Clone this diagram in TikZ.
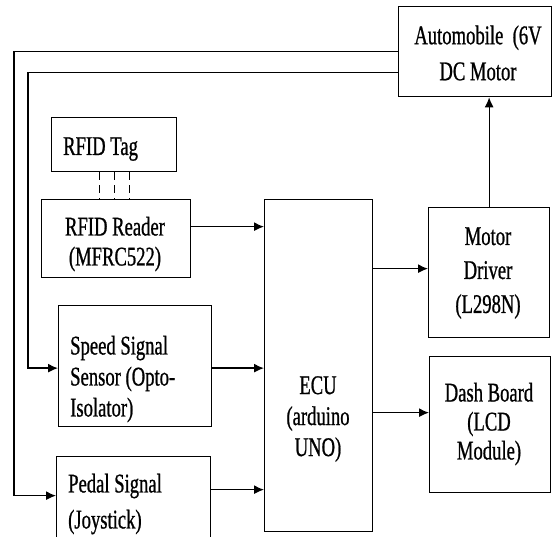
\documentclass[tikz,border=0pt]{standalone}
\usepackage{fontspec}
\setmainfont[FakeStretch=0.69,FakeBold=0.8]{Liberation Serif}
\usetikzlibrary{arrows.meta}

\tikzset{
  blk/.style={draw, line width=1.3pt, inner sep=0pt, anchor=north west},
  lbl/.style={inner sep=0pt, font=\fontsize{27}{#1}\selectfont},
  lbl/.default=31,
  arr/.style={line width=1.3pt, -{Latex[length=10pt,width=9pt]}},
  link/.style={line width=1.2pt, dash pattern=on 8pt off 5pt}
}

\begin{document}
\begin{tikzpicture}[x=1pt,y=-1pt]

\useasboundingbox (0,0) rectangle (552,537);

% blocks
\node[blk, minimum width=153pt, minimum height=90pt]  (auto)   at (398,6)   {};
\node[blk, minimum width=125pt, minimum height=54pt]  (tag)    at (51,117)  {};
\node[blk, minimum width=149pt, minimum height=78pt]  (reader) at (41,199)  {};
\node[blk, minimum width=153pt, minimum height=121pt] (speed)  at (58,305)  {};
\node[blk, minimum width=154pt, minimum height=104pt] (pedal)  at (56,456)  {};
\node[blk, minimum width=108pt, minimum height=332pt] (ecu)    at (264,199) {};
\node[blk, minimum width=121pt, minimum height=130pt] (md)     at (428,207) {};
\node[blk, minimum width=121pt, minimum height=136pt] (dash)   at (429,356) {};

% texts
\node[lbl=36, align=center]        (autotxt)   at (478,53)  {Automobile\ \ (6V\\DC Motor};
\node[lbl, anchor=base west]       (tagtxt)    at (63,155)  {RFID Tag};
\node[lbl=30, align=center]        (readertxt) at (115,244) {RFID Reader\\(MFRC522)};
\node[lbl, align=left, anchor=west] (speedtxt) at (70,379)  {Speed Signal\\Sensor (Opto-\\Isolator)};
\node[lbl=36, align=left, anchor=west] (pedaltxt) at (68,504) {Pedal Signal\\(Joystick)};
\node[lbl, align=center]           (ecutxt)    at (318,419) {ECU\\(arduino\\UNO)};
\node[lbl=34, align=center]        (mdtxt)     at (488,273) {Motor\\Driver\\(L298N)};
\node[lbl=29, align=center]        (dashtxt)   at (489,424) {Dash Board\\(LCD\\Module)};

% rfid link
\foreach \dx in {-15,0,15}
  \draw[link] ([xshift=\dx pt]tag.south) -- ([xshift=\dx pt]tag.south |- reader.north);

% signals into the ECU
\coordinate (rdOut) at ([yshift=12pt]reader.east);
\coordinate (spOut) at ([yshift=-2pt]speed.east);
\coordinate (pdOut) at ([yshift=19pt]pedal.east);
\draw[arr] (rdOut) -- (rdOut -| ecu.west);
\draw[arr] (spOut) -- (spOut -| ecu.west);
\draw[arr] (pdOut) -- (pdOut -| ecu.west);

% ECU outputs
\coordinate (mdIn) at ([yshift=4pt]md.west);
\coordinate (dbIn) at ([yshift=12pt]dash.west);
\draw[arr] (mdIn -| ecu.east) -- (mdIn);
\draw[arr] (dbIn -| ecu.east) -- (dbIn);
\draw[arr] (md.north) -- (md.north |- auto.south);

% feedback from the motor
\draw[arr] (auto.west) -- ++(-384,0) |- ([yshift=13pt]pedal.west);
\draw[arr] ([yshift=-21pt]auto.west) -- ++(-370,0) |- ([yshift=-2pt]speed.west);

\end{tikzpicture}
\end{document}
